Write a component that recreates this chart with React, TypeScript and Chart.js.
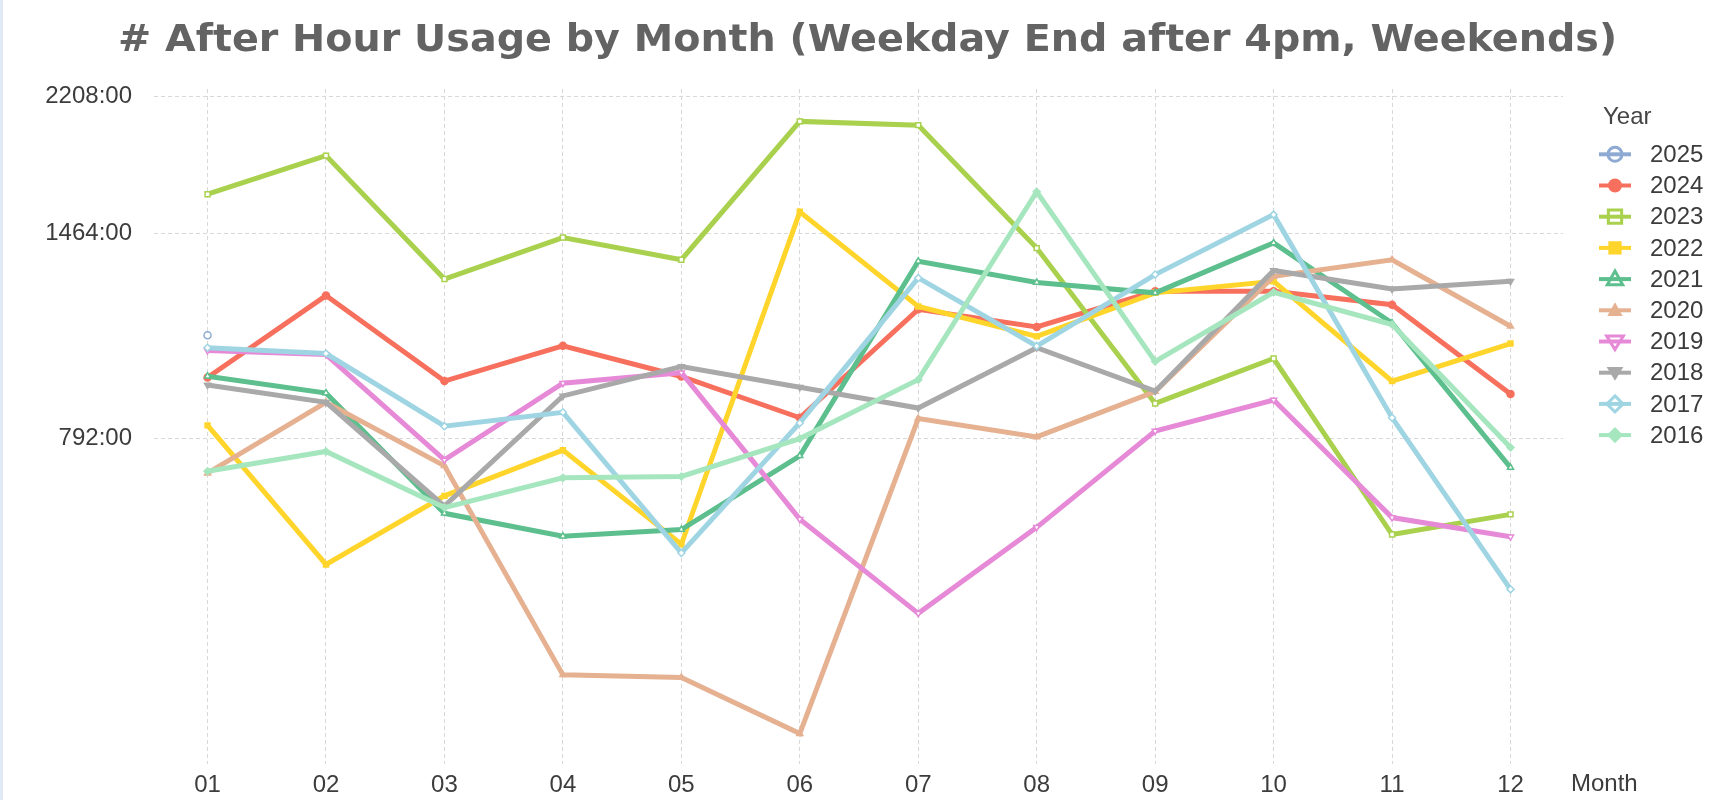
import React, { useEffect, useRef } from 'react';
import { Chart, registerables } from 'chart.js';

Chart.register(...registerables);

// ---------- data ----------
const titleText = '# After Hour Usage by Month (Weekday End after 4pm, Weekends)';
const months = [1, 2, 3, 4, 5, 6, 7, 8, 9, 10, 11, 12];
const monthLabels = ['01', '02', '03', '04', '05', '06', '07', '08', '09', '10', '11', '12'];
const xAxisTitle = 'Month';
const legendTitle = 'Year';
const yTickValues = [792, 1464, 2208];
const yTickLabels = ['792:00', '1464:00', '2208:00'];

const years = ['2025', '2024', '2023', '2022', '2021', '2020', '2019', '2018', '2017', '2016'];

const v2025 = [1080];
const v2024 = [951, 1216, 941, 1046, 954, 843, 1167, 1107, 1232, 1232, 1183, 905];
const v2023 = [1648, 1850, 1278, 1447, 1354, 2050, 2027, 1402, 880, 1007, 594, 631];
const v2022 = [824, 543, 667, 765, 577, 1563, 1177, 1076, 1226, 1269, 941, 1053];
const v2021 = [955, 908, 633, 591, 603, 752, 1348, 1265, 1226, 1424, 1120, 726];
const v2020 = [714, 883, 730, 390, 387, 327, 841, 796, 912, 1288, 1354, 1109];
const v2019 = [1031, 1019, 743, 935, 965, 622, 469, 607, 810, 889, 625, 590];
const v2018 = [930, 883, 647, 900, 983, 924, 868, 1040, 913, 1311, 1240, 1269];
const v2017 = [1040, 1022, 822, 857, 562, 830, 1282, 1045, 1295, 1550, 843, 504];
const v2016 = [718, 762, 644, 704, 707, 792, 945, 1660, 998, 1228, 1115, 771];

const seriesValues = [v2025, v2024, v2023, v2022, v2021, v2020, v2019, v2018, v2017, v2016];

// ---------- styles ----------
const colors = ['#8eaad2', '#f7705d', '#a9d14e', '#ffd52b', '#5cbf8d', '#e5b191', '#e68ad8', '#a9a9a9', '#9fd5e3', '#a6e6bf'];
const shapes = ['circle', 'circle', 'rect', 'rect', 'triangle', 'triangle', 'triangleDown', 'triangleDown', 'rectRot', 'rectRot'];
const hollow = [true, false, true, false, true, false, true, false, true, false];

const FONT = '"Liberation Sans", Arial, sans-serif';
const TEXT_COLOR = '#3c3c3c';

function drawShape(ctx: CanvasRenderingContext2D, shape: string, x: number, y: number, r: number, color: string, isHollow: boolean) {
  ctx.beginPath();
  if (shape === 'circle') {
    ctx.arc(x, y, r, 0, Math.PI * 2);
  } else if (shape === 'rect') {
    const s = r * 0.95;
    ctx.rect(x - s, y - s, s * 2, s * 2);
  } else if (shape === 'triangle') {
    ctx.moveTo(x, y - r * 1.15);
    ctx.lineTo(x + r * 1.1, y + r * 0.8);
    ctx.lineTo(x - r * 1.1, y + r * 0.8);
    ctx.closePath();
  } else if (shape === 'triangleDown') {
    ctx.moveTo(x, y + r * 1.15);
    ctx.lineTo(x + r * 1.2, y - r * 0.8);
    ctx.lineTo(x - r * 1.2, y - r * 0.8);
    ctx.closePath();
  } else {
    ctx.moveTo(x, y - r * 1.15);
    ctx.lineTo(x + r * 1.15, y);
    ctx.lineTo(x, y + r * 1.15);
    ctx.lineTo(x - r * 1.15, y);
    ctx.closePath();
  }
  if (isHollow) {
    ctx.fillStyle = '#ffffff';
    ctx.fill();
    ctx.lineWidth = 3;
    ctx.strokeStyle = color;
    ctx.stroke();
  } else {
    ctx.fillStyle = color;
    ctx.fill();
  }
}

const decorPlugin = {
  id: 'decor',
  afterDraw(chart: any) {
    const ctx: CanvasRenderingContext2D = chart.ctx;
    const area = chart.chartArea;
    ctx.save();
    // left light strip
    ctx.fillStyle = '#dfeaf5';
    ctx.fillRect(0, 0, 3, chart.height);

    // title
    ctx.font = 'bold 37px "DejaVu Sans", Verdana, sans-serif';
    const w = ctx.measureText(titleText).width;
    const target = 1499;
    ctx.save();
    ctx.translate(867.5, 50.5);
    ctx.scale(target / w, 1);
    ctx.textAlign = 'center';
    ctx.textBaseline = 'alphabetic';
    ctx.fillStyle = '#636363';
    ctx.fillText(titleText, 0, 0);
    ctx.restore();

    // x axis title
    ctx.font = '24px ' + FONT;
    ctx.fillStyle = TEXT_COLOR;
    ctx.textAlign = 'left';
    ctx.textBaseline = 'middle';
    ctx.fillText(xAxisTitle, area.right + 8, area.bottom + 21);

    // legend
    const lx = area.right + 36;
    ctx.fillStyle = '#454545';
    ctx.fillText(legendTitle, lx + 4, 117);
    years.forEach((yr, i) => {
      const cy = 154.3 + i * 31.2;
      const cx = lx + 16;
      ctx.lineCap = 'butt';
      ctx.strokeStyle = colors[i];
      ctx.lineWidth = 4;
      if (!hollow[i]) {
        ctx.beginPath();
        ctx.moveTo(lx, cy);
        ctx.lineTo(lx + 32, cy);
        ctx.stroke();
      }
      drawShape(ctx, shapes[i], cx, cy, 7, colors[i], hollow[i]);
      if (hollow[i]) {
        ctx.strokeStyle = colors[i];
        ctx.lineWidth = 4;
        ctx.beginPath();
        ctx.moveTo(lx, cy);
        ctx.lineTo(lx + 32, cy);
        ctx.stroke();
      }
      ctx.fillStyle = TEXT_COLOR;
      ctx.font = '24px ' + FONT;
      ctx.textAlign = 'left';
      ctx.textBaseline = 'middle';
      ctx.fillText(yr, lx + 51, cy + 1);
    });
    ctx.restore();
  },
};

export default function App() {
  const ref = useRef<HTMLCanvasElement | null>(null);

  useEffect(() => {
    const canvas = ref.current;
    if (!canvas) return;

    const ordered = years.map((yr, i) => ({
      label: yr,
      data: seriesValues[i].map((v, j) => ({ x: months[j], y: v })),
      borderColor: colors[i],
      backgroundColor: colors[i],
      borderWidth: 5,
      tension: 0,
      pointStyle: shapes[i] === 'triangleDown' ? 'triangle' : shapes[i],
      pointRotation: shapes[i] === 'triangleDown' ? 180 : 0,
      pointRadius: 3.5,
      pointBorderWidth: 1.5,
      pointBackgroundColor: hollow[i] ? '#ffffff' : colors[i],
      pointBorderColor: colors[i],
      fill: false,
    }));
    // later years listed first in the legend; earlier years drawn on top
    const datasets = ordered.slice().reverse();

    const gridColor = '#d8d8d8';

    const chart = new Chart(canvas, {
      type: 'line',
      data: { datasets: datasets as any },
      options: {
        responsive: false,
        maintainAspectRatio: false,
        animation: false,
        devicePixelRatio: 1,
        layout: { padding: { left: 0, right: 168, top: 89, bottom: 0 } },
        plugins: {
          legend: { display: false },
          title: { display: false },
          tooltip: { enabled: false },
        },
        scales: {
          x: {
            type: 'linear',
            min: 0.548,
            max: 12.443,
            afterBuildTicks: (axis: any) => {
              axis.ticks = months.map((m) => ({ value: m }));
            },
            afterFit: (axis: any) => {
              axis.height = 35;
            },
            grid: { color: gridColor, lineWidth: 1, drawTicks: false },
            border: { display: false, dash: [4, 3] },
            ticks: {
              padding: 7,
              autoSkip: false,
              maxRotation: 0,
              color: TEXT_COLOR,
              font: { family: FONT, size: 24 },
              callback: (v: any) => {
                const k = months.indexOf(Number(v));
                return k >= 0 ? monthLabels[k] : '';
              },
            },
          },
          y: {
            type: 'logarithmic',
            min: 298.9,
            max: 2259,
            afterBuildTicks: (axis: any) => {
              axis.ticks = yTickValues.map((v) => ({ value: v }));
            },
            afterFit: (axis: any) => {
              axis.width = 154;
            },
            grid: { color: gridColor, lineWidth: 1, drawTicks: false },
            border: { display: false, dash: [4, 3] },
            ticks: {
              padding: 22,
              color: TEXT_COLOR,
              font: { family: FONT, size: 24 },
              callback: (v: any) => {
                const k = yTickValues.indexOf(Number(v));
                return k >= 0 ? yTickLabels[k] : '';
              },
            },
          },
        },
      } as any,
      plugins: [decorPlugin],
    });

    return () => {
      chart.destroy();
    };
  }, []);

  return (
    <div style={{ position: 'fixed', left: 0, top: 0, width: 1731, height: 800, background: '#ffffff' }}>
      <canvas ref={ref} width={1731} height={800} style={{ display: 'block', width: 1731, height: 800 }} />
    </div>
  );
}
